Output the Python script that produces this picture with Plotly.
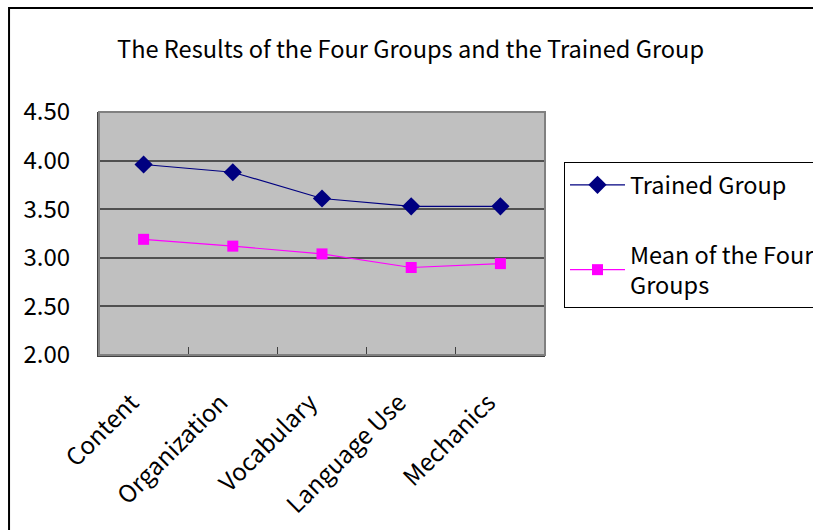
import plotly.graph_objects as go

categories = ["Content", "Organization", "Vocabulary", "Language Use", "Mechanics"]
trained_group = [3.96, 3.88, 3.61, 3.53, 3.53]
mean_four_groups = [3.19, 3.12, 3.04, 2.90, 2.94]
y_ticks = [2.00, 2.50, 3.00, 3.50, 4.00, 4.50]

FONT = "Noto Sans CJK JP"

fig = go.Figure()
fig.add_trace(go.Scatter(
    x=categories, y=trained_group, name="Trained Group",
    mode="lines+markers", legendgroup="a",
    line=dict(color="#000080", width=1.2),
    marker=dict(symbol="diamond", size=14, color="#000080"),
))
fig.add_trace(go.Scatter(
    x=categories, y=mean_four_groups, name="Mean of the Four<br>Groups",
    mode="lines+markers", legendgroup="b",
    line=dict(color="#FF00FF", width=1.2),
    marker=dict(symbol="square", size=11, color="#FF00FF"),
))

fig.update_layout(
    width=813, height=530,
    margin=dict(l=99, r=268, t=112, b=175, autoexpand=False),
    paper_bgcolor="white",
    plot_bgcolor="#C0C0C0",
    font=dict(family=FONT, size=24, color="black"),
    title=dict(
        text="The Results of the Four Groups and the Trained Group",
        x=0.505, xanchor="center", y=0.907, yanchor="middle",
        font=dict(family=FONT, size=23.6, color="black"),
    ),
    showlegend=True,
    legend=dict(
        x=1.0426, xanchor="left", y=0.794, yanchor="top",
        bordercolor="black", borderwidth=1, bgcolor="white",
        font=dict(family=FONT, size=23.5, color="black"),
        traceorder="grouped", tracegroupgap=36,
        itemwidth=55,
    ),
    xaxis=dict(
        type="category", range=[-0.5, 4.5],
        showgrid=False, showline=True, linecolor="#404040", linewidth=2,
        ticks="inside", tickson="boundaries", ticklen=8, tickcolor="#404040",
        tickangle=-45, tickfont=dict(family=FONT, size=24, color="black"),
        ticklabelstandoff=22, ticklabelshift=-12,
        zeroline=False,
    ),
    yaxis=dict(
        range=[2.0, 4.5], tickvals=y_ticks,
        ticktext=[f"{v:.2f}" for v in y_ticks],
        showgrid=True, gridcolor="#505050", gridwidth=1.5,
        showline=True, linecolor="#404040", linewidth=2,
        # invisible outside ticks leave a gap between labels and the axis
        ticks="outside", ticklen=22, tickcolor="rgba(0,0,0,0)",
        tickfont=dict(family=FONT, size=24, color="black"),
        zeroline=False,
    ),
    shapes=[
        # plot area frame (top and right edges in gray)
        dict(type="rect", xref="paper", yref="paper", x0=0, x1=1, y0=0, y1=1,
             line=dict(color="#808080", width=2), layer="above"),
        # outer chart frame
        dict(type="rect", xref="paper", yref="paper",
             x0=-0.2017, x1=2.0, y0=-2.0, y1=1.428,
             line=dict(color="black", width=2), layer="above"),
    ],
)

fig.write_html("out.html")
